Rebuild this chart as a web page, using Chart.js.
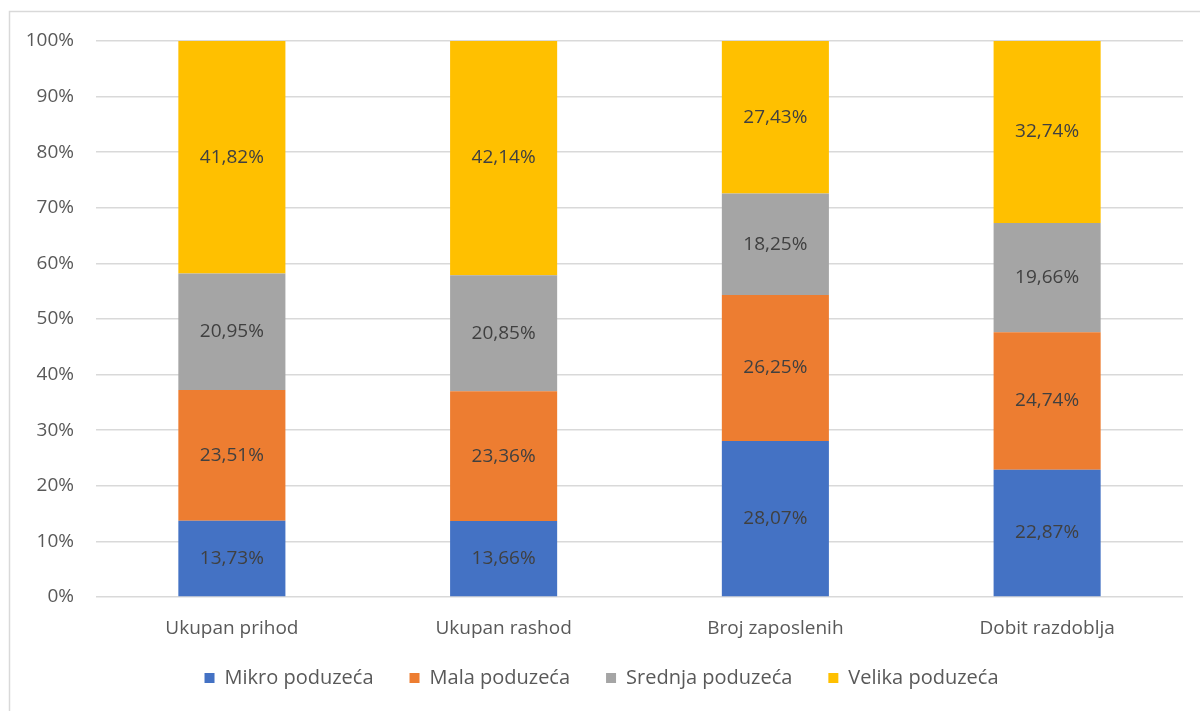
<!DOCTYPE html>
<html>
<head>
<meta charset="utf-8">
<script src="https://cdn.jsdelivr.net/npm/chart.js@4/dist/chart.umd.min.js"></script>
<style>
  html, body { margin: 0; padding: 0; background: #fff; overflow: hidden; }
  #wrap { width: 1200px; height: 711px; position: relative; }
</style>
</head>
<body>
<div id="wrap"><canvas id="chart" width="1200" height="711"></canvas></div>
<script>
// ── Data ──
const categories = ['Ukupan prihod', 'Ukupan rashod', 'Broj zaposlenih', 'Dobit razdoblja'];
const seriesNames = ['Mikro poduzeća', 'Mala poduzeća', 'Srednja poduzeća', 'Velika poduzeća'];
const mikro   = [13.73, 13.66, 28.07, 22.87];
const mala    = [23.51, 23.36, 26.25, 24.74];
const srednja = [20.95, 20.85, 18.25, 19.66];
const velika  = [41.82, 42.14, 27.43, 32.74];

// ── Styling ──
const colors   = ['#4472C4', '#ED7D31', '#A5A5A5', '#FFC000'];
const axisText = '#595959';
const valText  = '#404040';
const gridCol  = '#D9D9D9';
const fontFam  = '"Open Sans", sans-serif';

// outer frame like the Excel chart border
const framePlugin = {
  id: 'frame',
  beforeDraw(chart) {
    const ctx = chart.ctx;
    ctx.save();
    ctx.fillStyle = '#fff';
    ctx.fillRect(0, 0, chart.width, chart.height);
    ctx.strokeStyle = gridCol;
    ctx.lineWidth = 1.5;
    ctx.strokeRect(9.5, 11.5, 1400, 900);
    ctx.restore();
  }
};

// legend padding doubles as item spacing, so pull the legend box up a bit
const legendShift = {
  id: 'legendShift',
  afterLayout(chart) {
    const lg = chart.legend;
    if (!lg) return;
    lg.top -= 26;
    lg.bottom -= 26;
  }
};

// value labels centred in each segment
const valueLabels = {
  id: 'valueLabels',
  afterDatasetsDraw(chart) {
    const ctx = chart.ctx;
    ctx.save();
    ctx.font = `19px ${fontFam}`;
    ctx.fillStyle = valText;
    ctx.textAlign = 'center';
    ctx.textBaseline = 'middle';
    chart.data.datasets.forEach((ds, i) => {
      const meta = chart.getDatasetMeta(i);
      meta.data.forEach((bar, j) => {
        const v = ds.data[j];
        const y = (bar.y + bar.base) / 2;
        ctx.fillText(v.toFixed(2).replace('.', ',') + '%', bar.x, y);
      });
    });
    ctx.restore();
  }
};

const seriesData = [mikro, mala, srednja, velika];

new Chart(document.getElementById('chart'), {
  type: 'bar',
  data: {
    labels: categories,
    datasets: seriesNames.map((name, i) => ({
      label: name,
      data: seriesData[i],
      backgroundColor: colors[i],
      borderWidth: 0,
      categoryPercentage: 1,
      barPercentage: 0.394,
    })),
  },
  plugins: [framePlugin, legendShift, valueLabels],
  options: {
    responsive: false,
    animation: false,
    layout: { padding: { top: 41, left: 20, right: 17, bottom: -13 } },
    plugins: {
      tooltip: { enabled: false },
      legend: {
        position: 'bottom',
        labels: {
          boxWidth: 10,
          boxHeight: 10,
          padding: 36,
          color: axisText,
          font: { size: 20, family: fontFam },
        },
      },
    },
    scales: {
      x: {
        stacked: true,
        grid: { display: false },
        border: { display: false },
        ticks: { color: axisText, padding: 12, font: { size: 19, family: fontFam } },
        afterFit(scale) { scale.height = 61; },
      },
      y: {
        stacked: true,
        min: 0,
        max: 100,
        grid: { color: gridCol, lineWidth: 1.5, drawTicks: false },
        border: { display: false },
        ticks: {
          stepSize: 10,
          padding: 22,
          color: axisText,
          font: { size: 19, family: fontFam },
          callback: (v) => v + '%',
        },
        afterFit(scale) { scale.width = 76; },
      },
    },
  },
});
</script>
</body>
</html>
